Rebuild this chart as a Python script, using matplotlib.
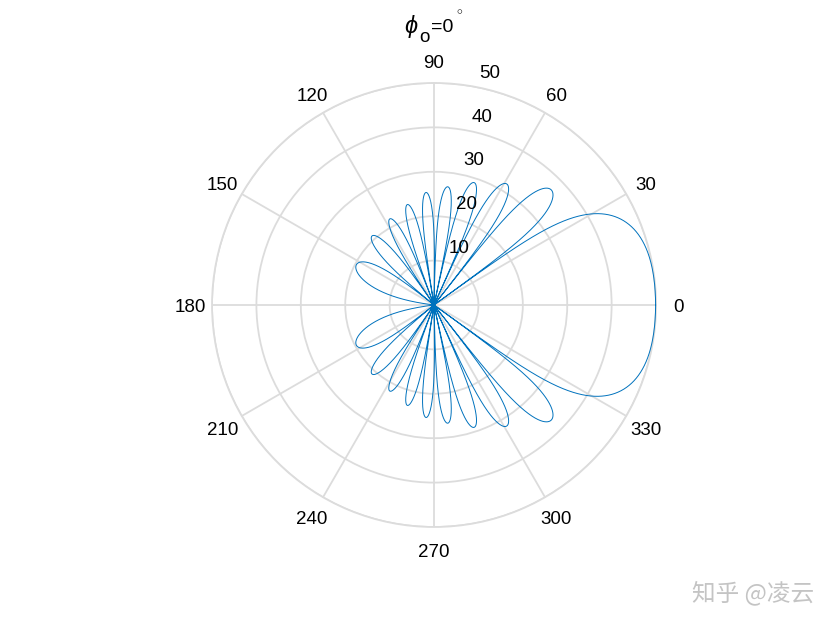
import numpy as np
import matplotlib
matplotlib.use('Agg')
import matplotlib.pyplot as plt
from matplotlib.transforms import offset_copy

# lobe nulls (deg) and lobe peak levels
# lobe 0 = main lobe (0 .. first null), lobe k = between null k-1 and null k
null_deg = [35.9, 51.9, 65.7, 77.8, 88.9, 99.2, 110.6, 124.1, 140.9, 180.0]
peak_level = [49.9, 37.0, 31.8, 29.0, 26.8, 25.4, 23.4, 21.8, 20.9, 19.7]

theta_ticks = list(range(0, 360, 30))
r_ticks = [10, 20, 30, 40, 50]
watermark = '知乎 @凌云'

line_col = '#0072BD'
grid_col = '#dcdcdc'
plt.rcParams['font.family'] = ['Liberation Sans', 'DejaVu Sans']
plt.rcParams['mathtext.fontset'] = 'custom'
plt.rcParams['mathtext.rm'] = 'Liberation Sans'
plt.rcParams['mathtext.it'] = 'Liberation Sans:italic'


def lobe_curve(theta):
    """dB style lobe shape between the nulls, symmetric about 0 deg."""
    c = np.cos(theta)
    cn = np.cos(np.deg2rad(null_deg))
    r = np.zeros_like(theta)
    # main lobe
    m = c >= cn[0]
    u = (1 - c[m]) / (1 - cn[0])
    r[m] = peak_level[0] + 20 * np.log10(np.abs(np.sinc(u)) + 1e-9)
    # side lobes
    for k in range(1, len(null_deg)):
        hi, lo = cn[k - 1], cn[k]
        s = (c < hi) & (c >= lo)
        t = (hi - c[s]) / (hi - lo)
        r[s] = peak_level[k] + 20 * np.log10(np.abs(np.sin(np.pi * t)) + 1e-9)
    return np.clip(r, 0, None)


theta = np.linspace(0, 2 * np.pi, 40001)
rho = lobe_curve(theta)

fig = plt.figure(figsize=(8.4, 6.3), dpi=100)
ax = fig.add_axes([0.2524, 0.1635, 0.5286, 0.7048], projection='polar')
ax.plot(theta, rho, color=line_col, lw=0.7, clip_on=False)

ax.set_ylim(0, 50)
ax.set_xticks(np.deg2rad(theta_ticks))
ax.set_xticklabels([])
ax.set_yticks(r_ticks)
ax.set_yticklabels([])
ax.grid(True, color=grid_col, lw=1.3)
ax.spines['polar'].set_color(grid_col)
ax.spines['polar'].set_linewidth(1.3)
ax.spines['polar'].set_zorder(1)
ax.tick_params(length=0)

th_off = offset_copy(ax.transData, fig=fig, x=0, y=-3, units='dots')
for a in theta_ticks:
    ax.text(np.deg2rad(a), 55, str(a), transform=th_off, ha='center',
            va='center', fontsize=13.5, clip_on=False)

off = offset_copy(ax.transData, fig=fig, x=17, y=13, units='dots')
for r in r_ticks:
    ax.text(np.deg2rad(80), r, str(r), transform=off, ha='center',
            va='center', fontsize=13.5, clip_on=False)

# title  phi_o = 0 deg, built from pieces so the subscript sits like MATLAB's
fig.text(404 / 840, 1 - 27 / 630, r'$\phi$', ha='left', va='center', fontsize=17)
fig.text(419 / 840, 1 - 37 / 630, 'o', ha='left', va='center', fontsize=13.5)
fig.text(431 / 840, 1 - 27 / 630, '=0', ha='left', va='center', fontsize=14)
fig.text(456 / 840, 1 - 15 / 630, r'$^{\circ}$', ha='left', va='center', fontsize=12)

fig.text(753 / 840, 1 - 593 / 630, watermark, ha='center', va='center',
         fontsize=17, color='#c4c4c4',
         family=['Noto Sans CJK SC', 'DejaVu Sans'])

fig.savefig('out.png', dpi=100)
